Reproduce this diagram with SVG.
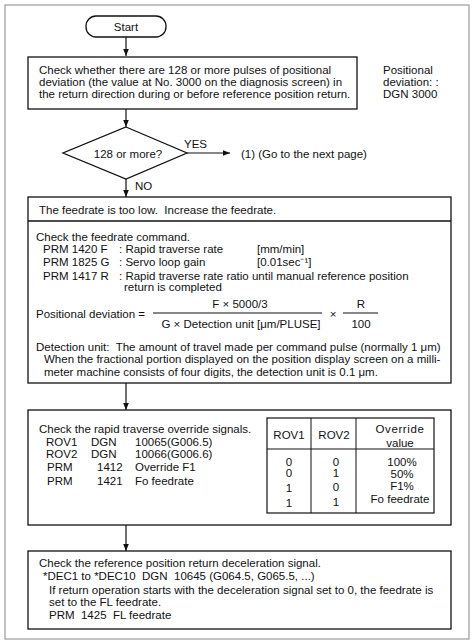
<svg xmlns="http://www.w3.org/2000/svg" width="474" height="644" viewBox="0 0 474 644">
<style>
text{font-family:"Liberation Sans",Arial,sans-serif;font-size:11.5px;fill:#111;white-space:pre}
.c{text-anchor:middle}
.box{fill:#fff;stroke:#111;stroke-width:1.3}
.ln{stroke:#111;stroke-width:1.2;fill:none}
.thin{stroke:#111;stroke-width:1;fill:none}
</style>
<defs>
<marker id="ah" viewBox="0 0 10 10" refX="10" refY="5" markerWidth="7" markerHeight="7" orient="auto" markerUnits="userSpaceOnUse">
<path d="M0,1 L10,5 L0,9 Z" fill="#111"/>
</marker>
</defs>
<rect x="0" y="0" width="474" height="644" fill="#fff"/>
<rect x="5" y="5" width="464" height="634" fill="#fff" stroke="#999" stroke-width="1.2"/>

<g id="connectors">
<line class="ln" x1="126" y1="37" x2="126" y2="56" marker-end="url(#ah)"/>
<line class="ln" x1="126" y1="109" x2="126" y2="127" marker-end="url(#ah)"/>
<line class="ln" x1="187" y1="153" x2="230" y2="153" marker-end="url(#ah)"/>
<line class="ln" x1="126" y1="179" x2="126" y2="197" marker-end="url(#ah)"/>
<line class="ln" x1="126" y1="383" x2="126" y2="410" marker-end="url(#ah)"/>
<line class="ln" x1="126" y1="525" x2="126" y2="551" marker-end="url(#ah)"/>
<text x="184" y="148">YES</text>
<text x="241" y="158">(1) (Go to the next page)</text>
<text x="135" y="190">NO</text>
</g>

<g id="start">
<rect class="box" x="86" y="16" width="80" height="21" rx="10" ry="10"/>
<text class="c" x="126" y="31">Start</text>
</g>

<g id="check-deviation">
<rect class="box" x="28" y="57" width="329" height="52"/>
<text x="39" y="74">Check whether there are 128 or more pulses of positional</text>
<text x="39" y="86">deviation (the value at No. 3000 on the diagnosis screen) in</text>
<text x="39" y="98">the return direction during or before reference position return.</text>
</g>

<g id="note-dgn">
<text x="383" y="74">Positional</text>
<text x="383" y="86">deviation: :</text>
<text x="383" y="98">DGN 3000</text>
</g>

<g id="decision">
<polygon class="box" points="126,127 187,153 126,179 63,153"/>
<text class="c" x="128" y="158">128 or more?</text>
</g>

<g id="feedrate-box">
<rect class="box" x="28" y="197" width="423" height="186"/>
<line class="thin" x1="28" y1="221" x2="451" y2="221" style="stroke-width:1.3"/>
<text x="39" y="214">The feedrate is too low.  Increase the feedrate.</text>
<text x="36" y="241">Check the feedrate command.</text>
<text x="43" y="253">PRM 1420 F</text>
<text x="119" y="253">: Rapid traverse rate</text>
<text x="257" y="253">[mm/min]</text>
<text x="43" y="266">PRM 1825 G</text>
<text x="119" y="266">: Servo loop gain</text>
<text x="257" y="266">[0.01sec⁻¹]</text>
<text x="43" y="280">PRM 1417 R</text>
<text x="119" y="280">: Rapid traverse rate ratio until manual reference position</text>
<text x="124" y="291">return is completed</text>
<text x="36" y="318">Positional deviation =</text>
<text class="c" x="240" y="308">F × 5000/3</text>
<line class="thin" x1="153" y1="313" x2="322" y2="313"/>
<text class="c" x="241" y="328">G × Detection unit [μm/PLUSE]</text>
<text class="c" x="333" y="318">×</text>
<text class="c" x="361" y="308">R</text>
<line class="thin" x1="343" y1="313" x2="378" y2="313"/>
<text class="c" x="361" y="328">100</text>
<text x="36" y="351">Detection unit:  The amount of travel made per command pulse (normally 1 μm)</text>
<text x="44" y="363">When the fractional portion displayed on the position display screen on a milli-</text>
<text x="44" y="376">meter machine consists of four digits, the detection unit is 0.1 μm.</text>
</g>

<g id="override-box">
<rect class="box" x="28" y="410" width="423" height="115"/>
<text x="39" y="433">Check the rapid traverse override signals.</text>
<text x="46" y="446">ROV1</text><text x="91" y="446">DGN</text><text x="135" y="446">10065(G006.5)</text>
<text x="46" y="458">ROV2</text><text x="91" y="458">DGN</text><text x="135" y="458">10066(G006.6)</text>
<text x="47" y="471">PRM</text><text x="97" y="471">1412</text><text x="135" y="471">Override F1</text>
<text x="47" y="485">PRM</text><text x="97" y="485">1421</text><text x="135" y="485">Fo feedrate</text>
</g>

<g id="override-table">
<rect x="267" y="418" width="167" height="95" fill="none" stroke="#111" stroke-width="1.2"/>
<line class="thin" x1="311" y1="418" x2="311" y2="513"/>
<line class="thin" x1="356" y1="418" x2="356" y2="513"/>
<line class="thin" x1="267" y1="449" x2="434" y2="449"/>
<text class="c" x="289" y="439">ROV1</text>
<text class="c" x="334" y="439">ROV2</text>
<text class="c" x="400" y="433" style="letter-spacing:0.6px">Override</text>
<text class="c" x="400" y="447">value</text>
<text class="c" x="289" y="466">0</text><text class="c" x="336" y="466">0</text><text class="c" x="402" y="466">100%</text>
<text class="c" x="289" y="477">0</text><text class="c" x="336" y="477">1</text><text class="c" x="402" y="478">50%</text>
<text class="c" x="289" y="492">1</text><text class="c" x="336" y="491">0</text><text class="c" x="402" y="490">F1%</text>
<text class="c" x="289" y="507">1</text><text class="c" x="336" y="506">1</text><text class="c" x="400" y="503">Fo feedrate</text>
</g>

<g id="decel-box">
<rect class="box" x="28" y="551" width="423" height="78"/>
<text x="39" y="567">Check the reference position return deceleration signal.</text>
<text x="43" y="580">*DEC1 to *DEC10  DGN  10645 (G064.5, G065.5, ...)</text>
<text x="49" y="594">If return operation starts with the deceleration signal set to 0, the feedrate is</text>
<text x="49" y="606">set to the FL feedrate.</text>
<text x="49" y="619">PRM  1425  FL feedrate</text>
</g>
</svg>
